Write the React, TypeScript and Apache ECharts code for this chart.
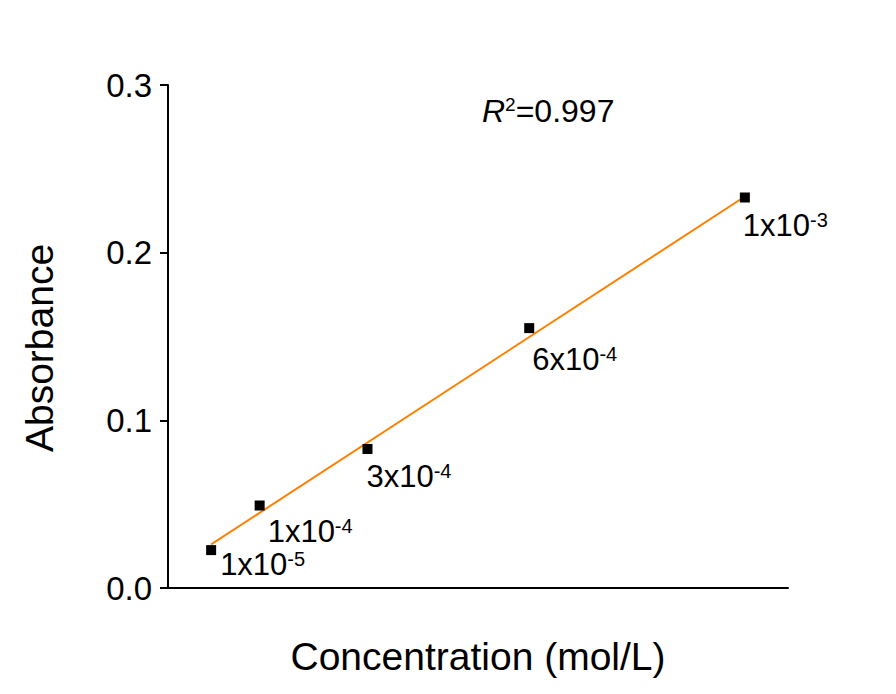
import React, { useEffect, useRef } from "react";
import * as echarts from "echarts";

// Concentrations (mol/L) and measured absorbance
const concentrations = [0.00001, 0.0001, 0.0003, 0.0006, 0.001];
const absorbance = [0.0226, 0.0492, 0.0829, 0.155, 0.2329];
// Point annotations: mantissa x 10^exponent
const labelMantissa = ["1x10", "1x10", "3x10", "6x10", "1x10"];
const labelExponent = ["-5", "-4", "-4", "-4", "-3"];
// Linear fit line end points
const fitX = [0.00001, 0.001];
const fitY = [0.026, 0.2335];
const yTicks = [0, 0.1, 0.2, 0.3];
const r2Text = "0.997";

// Label offsets (layout only), relative to the marker's top-left corner
const labelOffsets: [number, number][] = [
  [14, 4],
  [13, 15],
  [4, 17],
  [8, 21],
  [3, 17],
];

const FONT = "'Liberation Sans', Arial, Helvetica, sans-serif";

export default function App() {
  const ref = useRef<HTMLDivElement>(null);

  useEffect(() => {
    if (!ref.current) return;
    const chart = echarts.init(ref.current, undefined, { renderer: "svg" });

    const scatterData = concentrations.map((c, i) => ({
      value: [c, absorbance[i]],
      label: {
        show: true,
        position: labelOffsets[i],
        align: "left",
        verticalAlign: "top",
        formatter: `{m|${labelMantissa[i]}}{s|${labelExponent[i]}}`,
        rich: {
          m: { fontSize: 31, lineHeight: 31, fontFamily: FONT, color: "#000" },
          s: { fontSize: 20, lineHeight: 20, fontFamily: FONT, color: "#000", verticalAlign: "top" },
        },
      },
    }));

    const option: any = {
      animation: false,
      backgroundColor: "#ffffff",
      grid: { left: 168, right: 108, top: 85, bottom: 106, containLabel: false },
      xAxis: {
        type: "value",
        min: -0.00007,
        max: 0.00108,
        axisLine: { show: true, onZero: false, lineStyle: { color: "#000", width: 2 } },
        axisTick: { show: false },
        axisLabel: { show: false },
        splitLine: { show: false },
      },
      yAxis: {
        type: "value",
        min: yTicks[0],
        max: yTicks[yTicks.length - 1],
        interval: 0.1,
        axisLine: { show: true, onZero: false, lineStyle: { color: "#000", width: 2 } },
        axisTick: { show: true, inside: false, length: 8, lineStyle: { color: "#000", width: 2 } },
        axisLabel: {
          show: true,
          margin: 16,
          fontSize: 33,
          fontFamily: FONT,
          color: "#000",
          formatter: (v: number) => v.toFixed(1),
        },
        splitLine: { show: false },
      },
      series: [
        {
          type: "line",
          data: fitX.map((x, i) => [x, fitY[i]]),
          showSymbol: false,
          symbol: "none",
          lineStyle: { color: "#FF8000", width: 2 },
          z: 2,
          silent: true,
        },
        {
          type: "scatter",
          data: scatterData,
          symbol: "rect",
          symbolSize: 10,
          itemStyle: { color: "#000", opacity: 1 },
          z: 3,
        },
      ],
      graphic: [
        {
          type: "text",
          left: 482,
          top: 95,
          style: {
            text: `{i|R}{s|2}{n|=${r2Text}}`,
            verticalAlign: "top",
            rich: {
              i: { fontSize: 32, lineHeight: 32, fontStyle: "italic", fontFamily: FONT, fill: "#000" },
              s: { fontSize: 19, lineHeight: 19, fontFamily: FONT, fill: "#000", verticalAlign: "top" },
              n: { fontSize: 32, lineHeight: 32, fontFamily: FONT, fill: "#000" },
            },
          },
        },
        {
          type: "text",
          x: 39,
          y: 348,
          rotation: Math.PI / 2,
          style: {
            text: "Absorbance",
            fontSize: 39,
            fontFamily: FONT,
            fill: "#000",
            align: "center",
            verticalAlign: "middle",
          },
        },
        {
          type: "text",
          x: 478,
          y: 656,
          style: {
            text: "Concentration (mol/L)",
            fontSize: 39,
            fontFamily: FONT,
            fill: "#000",
            align: "center",
            verticalAlign: "middle",
          },
        },
      ],
    };

    chart.setOption(option);
    return () => chart.dispose();
  }, []);

  return (
    <div
      ref={ref}
      style={{ position: "fixed", left: 0, top: 0, width: 896, height: 694, background: "#fff" }}
    />
  );
}
